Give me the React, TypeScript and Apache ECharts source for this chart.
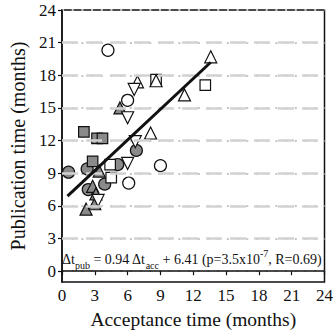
import React, { useEffect, useRef } from 'react';
import * as echarts from 'echarts';

// Data: [acceptance time, publication time] in months
const openCircles: number[][] = [[4.2, 20.3], [6.0, 15.7], [9.0, 9.7], [6.1, 8.1]];
const grayCircles: number[][] = [[0.6, 9.1], [2.3, 9.4], [5.1, 9.8], [6.8, 11.1], [2.4, 7.5], [3.9, 8.0]];
const graySquares: number[][] = [[2.0, 12.8], [3.2, 12.2], [3.7, 12.2], [2.8, 10.1]];
const openSquares: number[][] = [[8.6, 17.6], [13.1, 17.1], [4.5, 8.6], [4.4, 9.8]];
const openTrianglesUp: number[][] = [[6.9, 17.4], [8.6, 17.5], [11.2, 16.2], [8.1, 12.7], [13.6, 19.7]];
const openTrianglesDown: number[][] = [[6.6, 16.7], [6.0, 14.1], [6.7, 11.9], [6.0, 9.9], [3.3, 6.5]];
const grayTrianglesUp: number[][] = [[5.3, 15.0], [2.2, 5.7], [3.0, 6.2], [3.4, 9.2], [2.8, 7.8], [3.1, 7.1]];
const fitLine: number[][] = [[0.5, 6.9], [13.6, 19.2]];

const yTickValues = [0, 3, 6, 9, 12, 15, 18, 21, 24];
const majorGridValues = [3, 6, 9, 12, 15, 18, 21];

const FONT = '"Liberation Serif", "Times New Roman", serif';

export default function App() {
  const ref = useRef<HTMLDivElement>(null);

  useEffect(() => {
    document.body.style.margin = '0';
    const chart = echarts.init(ref.current as HTMLDivElement, null, { renderer: 'svg' });

    const mk = (data: number[][], symbol: string, fill: string, rotate = 0, size = 12) => ({
      type: 'scatter',
      data,
      symbol,
      symbolSize: size,
      symbolRotate: rotate,
      itemStyle: { color: fill, borderColor: '#111', borderWidth: 1.2, opacity: 1 },
      z: 3,
      silent: true,
    });

    const option: any = {
      animation: false,
      grid: {
        left: 60, right: 8, top: 10, bottom: 47,
        show: true, borderColor: '#111', borderWidth: 1.5, backgroundColor: 'transparent',
      },
      xAxis: {
        type: 'value', min: 0, max: 24, interval: 3,
        name: 'Acceptance time (months)', nameLocation: 'middle', nameGap: 24,
        nameTextStyle: { fontFamily: FONT, fontSize: 19.5, color: '#111' },
        axisLine: { show: true, lineStyle: { color: '#111', width: 1.5 } },
        axisTick: { show: true, inside: false, length: 4, lineStyle: { color: '#111', width: 1.2 } },
        axisLabel: { fontFamily: FONT, fontSize: 17, color: '#111', margin: 5 },
        splitLine: { show: false },
      },
      yAxis: {
        type: 'value', min: -1, max: 24, interval: 1,
        name: 'Publication time (months)', nameLocation: 'middle', nameGap: 34,
        nameTextStyle: { fontFamily: FONT, fontSize: 20, color: '#111' },
        axisLine: { show: true, lineStyle: { color: '#111', width: 1.5 } },
        axisTick: { show: true, inside: false, length: 4, customValues: yTickValues, lineStyle: { color: '#111', width: 1.2 } },
        axisLabel: { fontFamily: FONT, fontSize: 17, color: '#111', margin: 6, customValues: yTickValues },
        splitLine: { show: true, lineStyle: { color: '#c4c4c4', width: 2, type: [2, 7.7] } },
      },
      graphic: [
        {
          type: 'text', left: 62, top: 248, silent: true, z: 10,
          style: {
            text: '{m|Δt}{s|pub}{m| = 0.94 Δt}{s|acc}{m| + 6.41 (p=3.5x10}{u|-7}{m|, R=0.69)}',
            rich: {
              m: { fontFamily: FONT, fontSize: 14, lineHeight: 22, verticalAlign: 'middle', fill: '#111' },
              s: { fontFamily: FONT, fontSize: 10, lineHeight: 22, verticalAlign: 'bottom', fill: '#111' },
              u: { fontFamily: FONT, fontSize: 10, lineHeight: 22, verticalAlign: 'top', fill: '#111' },
            },
          },
        },
      ],
      series: [
        {
          type: 'line', data: [], z: 1, silent: true,
          markLine: {
            silent: true, symbol: 'none', label: { show: false },
            lineStyle: { color: '#d2d2d2', width: 2.5, type: [16, 8] },
            data: majorGridValues.map((v) => ({ yAxis: v })),
          },
        },
        mk(openCircles, 'circle', '#fff', 0, 12),
        mk(grayCircles, 'circle', '#8a8a8a', 0, 12),
        mk(openSquares, 'rect', '#fff', 0, 10.5),
        mk(graySquares, 'rect', '#8a8a8a', 0, 10.5),
        mk(grayTrianglesUp, 'triangle', '#8a8a8a', 0, 12),
        mk(openTrianglesUp, 'triangle', '#fff', 0, 12),
        mk(openTrianglesDown, 'triangle', '#fff', 180, 12),
        {
          type: 'line', data: fitLine, symbol: 'none', z: 5, silent: true,
          lineStyle: { color: '#111', width: 3 },
        },
      ],
    };

    chart.setOption(option);
    return () => chart.dispose();
  }, []);

  return <div ref={ref} style={{ width: 336, height: 334 }} />;
}
